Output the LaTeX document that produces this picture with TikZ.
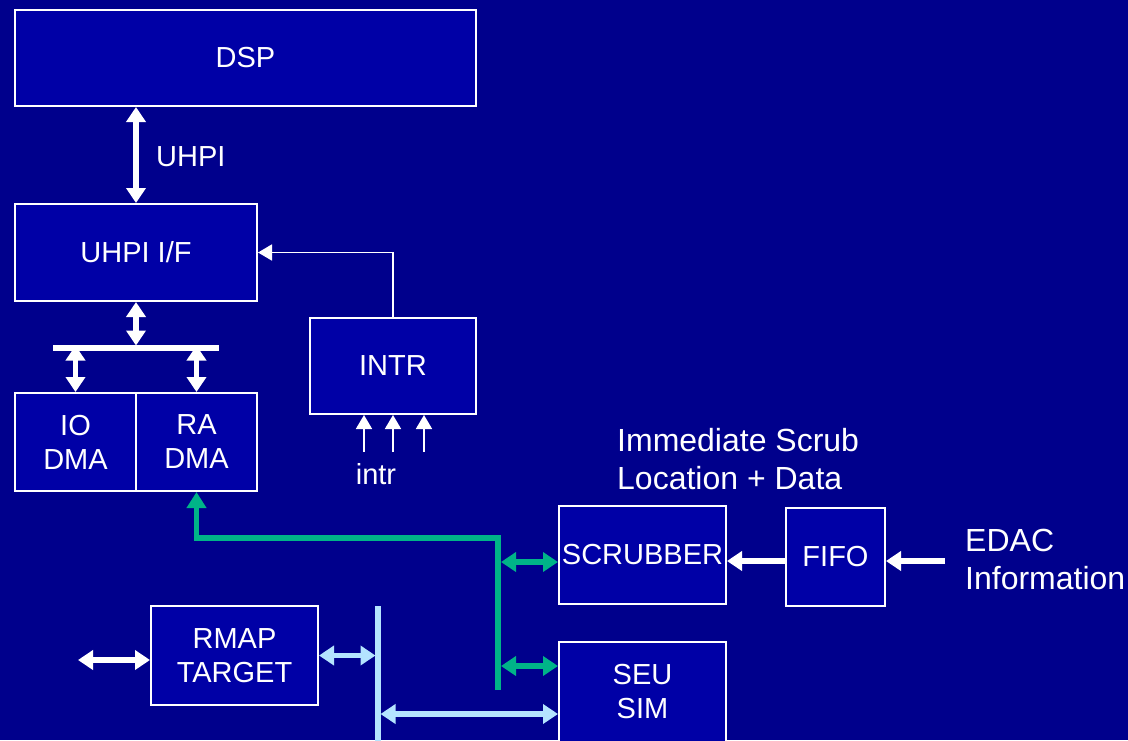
\documentclass[tikz,border=0pt]{standalone}
\usepackage{fontspec}
\setmainfont{Liberation Sans}
\usetikzlibrary{arrows.meta,calc}
\definecolor{bgnavy}{RGB}{0,0,140}
\definecolor{boxblue}{RGB}{0,0,166}
\definecolor{busgreen}{RGB}{0,180,136}
\definecolor{buslight}{RGB}{180,228,255}
\tikzset{
  box/.style={draw=white, line width=2pt, fill=boxblue, text=white, align=center,
    font=\fontsize{29}{34}\selectfont, inner sep=0pt},
  lbl/.style={text=white, font=\fontsize{29}{34}\selectfont, inner sep=0pt},
  biglbl/.style={text=white, align=left, font=\fontsize{32}{38}\selectfont, inner sep=0pt},
  tip/.style={Triangle[width=19pt,length=15pt]},
  wthick/.style={draw=white, line width=5.5pt, {Triangle[width=19pt,length=15pt]}-{Triangle[width=19pt,length=15pt]}},
  wsingle/.style={draw=white, line width=5.5pt, -{Triangle[width=19pt,length=15pt]}},
  wthin/.style={draw=white, line width=1.8pt, -{Triangle[width=16pt,length=14pt]}},
  gline/.style={draw=busgreen, line width=5.5pt},
  garrow/.style={draw=busgreen, line width=5.5pt, line join=miter, -{Triangle[width=19pt,length=16pt]}},
  gdbl/.style={draw=busgreen, line width=5.5pt, {Triangle[width=19pt,length=15pt]}-{Triangle[width=19pt,length=15pt]}},
  lline/.style={draw=buslight, line width=5.5pt},
  ldbl/.style={draw=buslight, line width=5.5pt, {Triangle[width=19pt,length=15pt]}-{Triangle[width=19pt,length=15pt]}},
}
\begin{document}
\begin{tikzpicture}[x=1pt,y=-1pt]
\useasboundingbox (0,0) rectangle (1128,740);
\fill[bgnavy] (0,0) rectangle (1128,740);
\clip (0,0) rectangle (1128,740);

% boxes
\node[box, minimum width=461pt, minimum height=96pt] (dsp) at (245.5,58) {DSP};
\node[box, minimum width=242pt, minimum height=97pt] (uhpiif) at (136,252.5) {UHPI I/F};
\node[box, minimum width=166pt, minimum height=96pt] (intr) at (393,366) {INTR};
\node[box, minimum width=121pt, minimum height=98pt] (io) at (75.5,442) {IO\\DMA};
\node[box, minimum width=121pt, minimum height=98pt] (ra) at (196.5,442) {RA\\DMA};
\node[box, minimum width=167pt, minimum height=98pt] (scrub) at (642.5,555) {SCRUBBER};
\node[box, minimum width=99pt, minimum height=98pt] (fifo) at (835.5,557) {FIFO};
\node[box, minimum width=167pt, minimum height=99pt] (rmap) at (234.5,655.5) {RMAP\\TARGET};
\node[box, minimum width=167pt, minimum height=100pt] (seu) at (642.5,692) {SEU\\SIM};

% labels
\node[lbl, anchor=west] (uhpilbl) at (156,157) {UHPI};
\node[lbl] (intrlbl) at (376,474) {intr};
\node[biglbl, anchor=west] (scrublbl) at (617,459) {Immediate Scrub\\Location + Data};
\node[biglbl, anchor=west] (edaclbl) at (965,559) {EDAC\\Information};

% UHPI link
\draw[wthick] (dsp.south -| uhpiif.north) -- (uhpiif.north);

% bus bar below UHPI I/F
\coordinate (barL) at (53,348);
\coordinate (barR) at (219,348);
\coordinate (barC) at (136,345.5);
\draw[draw=white, line width=5.5pt] (barL) -- (barR);
\draw[wthick] (uhpiif.south) -- (barC);
\draw[wthick] (barC -| io.north) -- (io.north);
\draw[wthick] (barC -| ra.north) -- (ra.north);

% INTR to UHPI I/F
\draw[wthin] (intr.north) |- (uhpiif.east);

% intr inputs
\coordinate (i1) at (364,452);
\coordinate (i2) at (393,452);
\coordinate (i3) at (424,452);
\draw[wthin] (i1) -- (i1 |- intr.south);
\draw[wthin] (i2) -- (i2 |- intr.south);
\draw[wthin] (i3) -- (i3 |- intr.south);

% green bus
\coordinate (gc) at (498,538);
\coordinate (gb) at (498,690);
\draw[garrow] (gb) -- (gc) -| (ra.south);
\coordinate (gs) at (501,562);
\coordinate (gu) at (501,666);
\draw[gdbl] (gs) -- (gs -| scrub.west);
\draw[gdbl] (gu) -- (gu -| seu.west);

% light blue bus
\coordinate (lt) at (378,606);
\coordinate (lb) at (378,745);
\draw[lline] (lt) -- (lb);
\coordinate (lr) at (375.5,655.5);
\draw[ldbl] (rmap.east) -- (lr);
\coordinate (ls) at (380.5,714);
\draw[ldbl] (ls) -- (ls -| seu.west);

% external RMAP link
\coordinate (ext) at (78,660);
\draw[wthick] (ext) -- (ext -| rmap.west);

% EDAC -> FIFO -> SCRUBBER
\coordinate (edac) at (945,561);
\draw[wsingle] (edac) -- (edac -| fifo.east);
\draw[wsingle] (edac -| fifo.west) -- (edac -| scrub.east);
\end{tikzpicture}
\end{document}
